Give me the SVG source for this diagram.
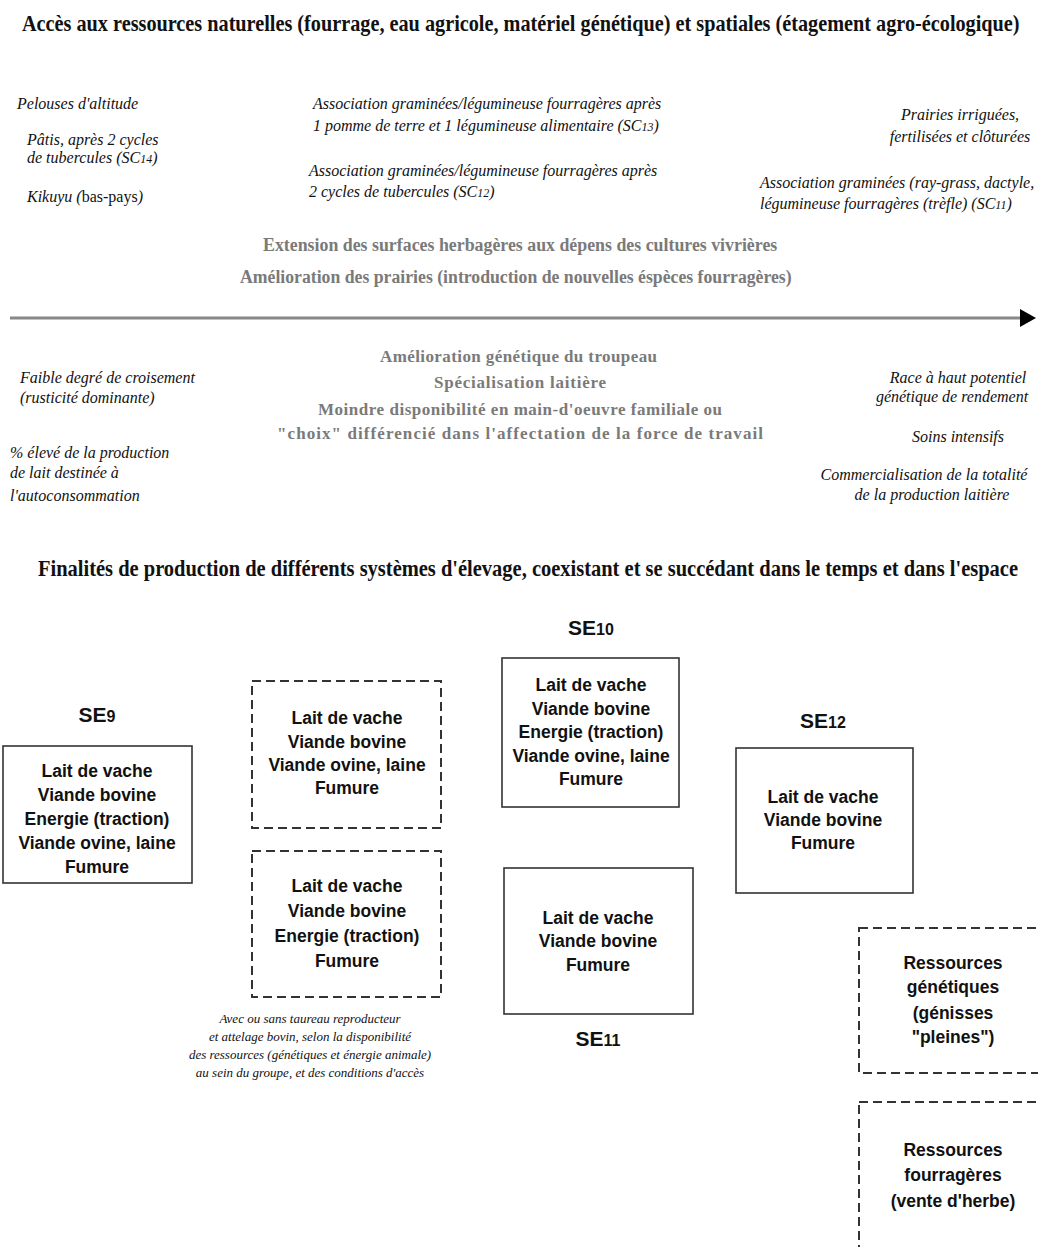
<svg xmlns="http://www.w3.org/2000/svg" width="1038" height="1247" viewBox="0 0 1038 1247">
<style>
.title{font-family:"Liberation Serif","Times New Roman",serif;font-weight:bold;font-size:24px;fill:#111}
.it{font-family:"Liberation Serif","Times New Roman",serif;font-style:italic;font-size:16px;fill:#111}
.note{font-family:"Liberation Serif","Times New Roman",serif;font-style:italic;font-size:13px;fill:#111}
.gray{font-family:"Liberation Serif","Times New Roman",serif;font-weight:bold;font-size:19px;fill:#7a7a7a}
.gray2{font-family:"Liberation Serif","Times New Roman",serif;font-weight:bold;font-size:17px;fill:#7a7a7a}
.sub{font-size:12px}
.box{fill:none;stroke:#333;stroke-width:1.6}
.dash{fill:none;stroke:#333;stroke-width:2;stroke-dasharray:9 5}
.bt{font-family:"Liberation Sans",Arial,sans-serif;font-weight:bold;font-size:17.5px;fill:#111;text-anchor:middle}
.se{font-family:"Liberation Sans",Arial,sans-serif;font-weight:bold;font-size:21px;fill:#111;text-anchor:middle}
.sed{font-size:16px}
</style>
<defs>
<marker id="arrowhead" markerWidth="16" markerHeight="18" refX="1" refY="9" orient="auto" markerUnits="userSpaceOnUse" viewBox="0 0 16 18">
<path d="M0,0 L16,9 L0,18 Z" fill="#000"/>
</marker>
</defs>
<rect width="1038" height="1247" fill="#fff"/>

<text class="title" transform="translate(22,31) scale(0.8,1)" x="0" y="0" textLength="1247" lengthAdjust="spacingAndGlyphs">Accès aux ressources naturelles (fourrage, eau agricole, matériel génétique) et spatiales (étagement agro-écologique)</text>

<g id="top-left">
<text class="it" x="17" y="109">Pelouses d'altitude</text>
<text class="it" x="27" y="145">Pâtis, après 2 cycles</text>
<text class="it" x="27" y="163">de tubercules (SC<tspan class="sub">14</tspan>)</text>
<text class="it" x="27" y="202">Kikuyu (<tspan font-style="normal">bas-pays</tspan>)</text>
</g>
<g id="top-middle">
<text class="it" x="313" y="109">Association graminées/légumineuse fourragères après</text>
<text class="it" x="313" y="131">1 pomme de terre et 1 légumineuse alimentaire (SC<tspan class="sub">13</tspan>)</text>
<text class="it" x="309" y="176">Association graminées/légumineuse fourragères après</text>
<text class="it" x="309" y="197">2 cycles de tubercules (SC<tspan class="sub">12</tspan>)</text>
</g>
<g id="top-right">
<text class="it" x="960" y="120" text-anchor="middle">Prairies irriguées,</text>
<text class="it" x="960" y="142" text-anchor="middle">fertilisées et clôturées</text>
<text class="it" x="760" y="188">Association graminées (ray-grass, dactyle,</text>
<text class="it" x="760" y="209">légumineuse fourragères (trèfle) (SC<tspan class="sub">11</tspan>)</text>
</g>

<g id="trend-top">
<text class="gray" transform="translate(263,251) scale(0.85,1)" x="0" y="0" textLength="605" lengthAdjust="spacingAndGlyphs">Extension des surfaces herbagères aux dépens des cultures vivrières</text>
<text class="gray" transform="translate(240,283) scale(0.85,1)" x="0" y="0" textLength="649" lengthAdjust="spacingAndGlyphs">Amélioration des prairies (introduction de nouvelles éspèces fourragères)</text>
</g>

<g id="connectors">
<line x1="10" y1="318" x2="1021" y2="318" stroke="#888" stroke-width="3" marker-end="url(#arrowhead)"/>
</g>

<g id="trend-bottom">
<text class="gray2" x="380" y="362" textLength="277" lengthAdjust="spacing">Amélioration génétique du troupeau</text>
<text class="gray2" x="434" y="388" textLength="172" lengthAdjust="spacing">Spécialisation laitière</text>
<text class="gray2" x="318" y="415" textLength="404" lengthAdjust="spacing">Moindre disponibilité en main-d'oeuvre familiale ou</text>
<text class="gray2" x="277" y="439" textLength="486" lengthAdjust="spacing">"choix" différencié dans l'affectation de la force de travail</text>
</g>

<g id="bottom-left">
<text class="it" x="20" y="383">Faible degré de croisement</text>
<text class="it" x="20" y="403">(rusticité dominante)</text>
<text class="it" x="10" y="458">% élevé de la production</text>
<text class="it" x="10" y="478">de lait destinée à</text>
<text class="it" x="10" y="501">l'autoconsommation</text>
</g>
<g id="bottom-right">
<text class="it" x="958" y="383" text-anchor="middle">Race à haut potentiel</text>
<text class="it" x="952" y="402" text-anchor="middle">génétique de rendement</text>
<text class="it" x="958" y="442" text-anchor="middle">Soins intensifs</text>
<text class="it" x="924" y="480" text-anchor="middle">Commercialisation de la totalité</text>
<text class="it" x="932" y="500" text-anchor="middle">de la production laitière</text>
</g>

<text class="title" transform="translate(38,576) scale(0.8,1)" x="0" y="0" textLength="1225" lengthAdjust="spacingAndGlyphs">Finalités de production de différents systèmes d'élevage, coexistant et se succédant dans le temps et dans l'espace</text>

<g id="se9">
<text class="se" x="97" y="722">SE<tspan class="sed">9</tspan></text>
<rect class="box" x="3" y="746" width="189" height="137"/>
<text class="bt" x="97" y="777">Lait de vache</text>
<text class="bt" x="97" y="801">Viande bovine</text>
<text class="bt" x="97" y="825">Energie (traction)</text>
<text class="bt" x="97" y="849">Viande ovine, laine</text>
<text class="bt" x="97" y="873">Fumure</text>
</g>

<g id="se-var1">
<rect class="dash" x="252" y="681" width="189" height="147"/>
<text class="bt" x="347" y="724">Lait de vache</text>
<text class="bt" x="347" y="748">Viande bovine</text>
<text class="bt" x="347" y="771">Viande ovine, laine</text>
<text class="bt" x="347" y="794">Fumure</text>
</g>

<g id="se-var2">
<rect class="dash" x="252" y="851" width="189" height="146"/>
<text class="bt" x="347" y="892">Lait de vache</text>
<text class="bt" x="347" y="917">Viande bovine</text>
<text class="bt" x="347" y="942">Energie (traction)</text>
<text class="bt" x="347" y="967">Fumure</text>
</g>

<g id="note">
<text class="note" x="310" y="1023" text-anchor="middle">Avec ou sans taureau reproducteur</text>
<text class="note" x="310" y="1041" text-anchor="middle">et attelage bovin, selon la disponibilité</text>
<text class="note" x="310" y="1059" text-anchor="middle">des ressources (génétiques et énergie animale)</text>
<text class="note" x="310" y="1077" text-anchor="middle">au sein du groupe, et des conditions d'accès</text>
</g>

<g id="se10">
<text class="se" x="591" y="635">SE<tspan class="sed">10</tspan></text>
<rect class="box" x="502" y="658" width="177" height="149"/>
<text class="bt" x="591" y="691">Lait de vache</text>
<text class="bt" x="591" y="715">Viande bovine</text>
<text class="bt" x="591" y="738">Energie (traction)</text>
<text class="bt" x="591" y="762">Viande ovine, laine</text>
<text class="bt" x="591" y="785">Fumure</text>
</g>

<g id="se11">
<rect class="box" x="504" y="868" width="189" height="146"/>
<text class="bt" x="598" y="924">Lait de vache</text>
<text class="bt" x="598" y="947">Viande bovine</text>
<text class="bt" x="598" y="971">Fumure</text>
<text class="se" x="598" y="1046">SE<tspan class="sed">11</tspan></text>
</g>

<g id="se12">
<text class="se" x="823" y="728">SE<tspan class="sed">12</tspan></text>
<rect class="box" x="736" y="748" width="177" height="145"/>
<text class="bt" x="823" y="803">Lait de vache</text>
<text class="bt" x="823" y="826">Viande bovine</text>
<text class="bt" x="823" y="849">Fumure</text>
</g>

<g id="res-genetiques">
<rect class="dash" x="859" y="928" width="200" height="145"/>
<text class="bt" x="953" y="969">Ressources</text>
<text class="bt" x="953" y="993">génétiques</text>
<text class="bt" x="953" y="1019">(génisses</text>
<text class="bt" x="953" y="1043">"pleines")</text>
</g>

<g id="res-fourrageres">
<rect class="dash" x="859" y="1102" width="200" height="170"/>
<text class="bt" x="953" y="1156">Ressources</text>
<text class="bt" x="953" y="1181">fourragères</text>
<text class="bt" x="953" y="1207">(vente d'herbe)</text>
</g>
</svg>
